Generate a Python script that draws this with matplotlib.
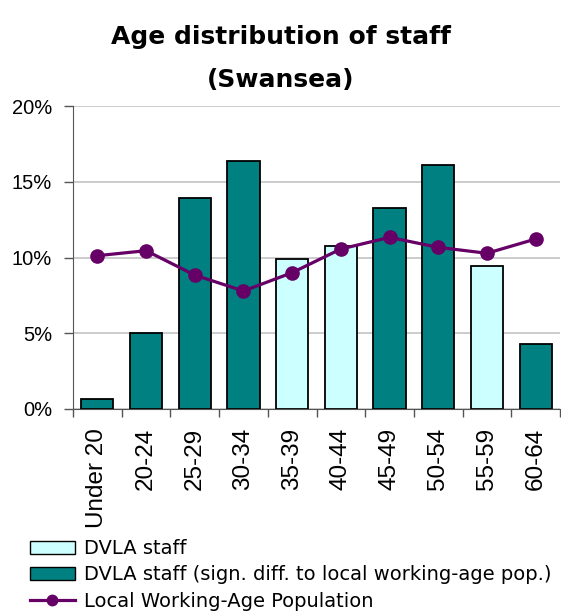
import numpy as np
import matplotlib
matplotlib.use("Agg")
import matplotlib.pyplot as plt
from matplotlib.patches import Patch
from matplotlib.lines import Line2D

plt.rcParams['font.family'] = ['DejaVu Sans']

age_groups = ['Under 20', '20-24', '25-29', '30-34', '35-39',
              '40-44', '45-49', '50-54', '55-59', '60-64']
dvla_staff = [0.64, 5.04, 13.95, 16.4, 9.88, 10.76, 13.3, 16.1, 9.46, 4.29]
# True where staff share differs significantly from the local population
significant = [True, True, True, True, False, False, True, True, False, True]
local_pop = [10.12, 10.45, 8.84, 7.79, 9.0, 10.56, 11.33, 10.67, 10.28, 11.22]

light = '#ccffff'
dark = '#008080'
purple = '#660066'
axis_grey = '#555555'

fig = plt.figure(figsize=(5.61, 6.15), dpi=100)
ax = fig.add_axes([73 / 561, 1 - 409 / 615, 487 / 561, 303 / 615])

x = np.arange(len(age_groups))
colors = [dark if s else light for s in significant]
ax.bar(x, dvla_staff, width=0.66, color=colors, edgecolor='black',
       linewidth=1.3, zorder=2)
ax.plot(x, local_pop, color=purple, linewidth=2.3, marker='o',
        markersize=9.5, zorder=3)

ax.set_xlim(-0.5, len(age_groups) - 0.5)
ax.set_ylim(0, 20)
ax.set_yticks([0, 5, 10, 15, 20])
ax.set_yticklabels(['0%', '5%', '10%', '15%', '20%'],
                   fontsize=14.5, family='Liberation Sans')
ax.yaxis.grid(True, color='#c8c8c8', linewidth=1.3, zorder=0)
ax.set_axisbelow(True)
ax.tick_params(axis='y', length=6.5, width=1, color=axis_grey, pad=8.5)

# category labels sit between boundary ticks
ax.set_xticks(x)
ax.set_xticklabels(age_groups, rotation=90, fontsize=17.5,
                   family='Liberation Sans')
ax.tick_params(axis='x', length=0, pad=13.5)
ax.set_xticks(np.arange(-0.5, len(age_groups)), minor=True)
ax.tick_params(axis='x', which='minor', length=6, width=1, color=axis_grey)

for side in ['top', 'right']:
    ax.spines[side].set_visible(False)
ax.spines['left'].set_color(axis_grey)
ax.spines['bottom'].set_color(axis_grey)

fig.text(0.5, 1 - 44 / 615, 'Age distribution of staff', ha='center',
         va='baseline', fontsize=18, fontweight='bold')
fig.text(0.5, 1 - 87 / 615, '(Swansea)', ha='center', va='baseline',
         fontsize=18, fontweight='bold')

handles = [
    Patch(facecolor=light, edgecolor='black', linewidth=1),
    Patch(facecolor=dark, edgecolor='black', linewidth=1),
    Line2D([0], [0], color=purple, linewidth=2.3, marker='o', markersize=7.5),
]
labels = ['DVLA staff', 'DVLA staff (sign. diff. to local working-age pop.)',
          'Local Working-Age Population']
fig.legend(handles, labels, loc='upper left',
           bbox_to_anchor=(30 / 561, 1 - 539 / 615),
           frameon=False, fontsize=14, handlelength=2.3, handleheight=0.65,
           handletextpad=0.5, labelspacing=0.38, borderaxespad=0,
           borderpad=0)

fig.savefig('out.png', dpi=100)
